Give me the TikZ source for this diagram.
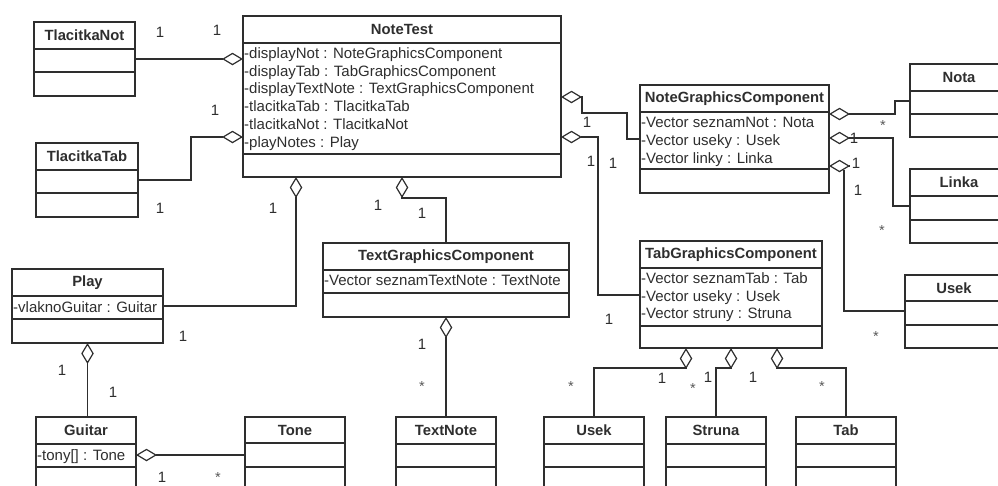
\documentclass[tikz,border=0pt]{standalone}
\usepackage{fontspec}
\setmainfont{Liberation Sans}
\usetikzlibrary{arrows.meta,fit,calc}
\definecolor{ink}{HTML}{2E2E2E}
\tikzset{
  ln/.style={draw=ink, line width=1.2pt},
  boxstyle/.style={draw=ink, line width=1.2pt, inner sep=0pt, outer sep=0pt},
  titlestyle/.style={font=\fontsize{14.8}{17}\selectfont\bfseries, text=ink, inner sep=0pt},
  attrstyle/.style={font=\fontsize{15}{17}\selectfont, text=ink, inner sep=0pt, anchor=base west},
  mult/.style={font=\fontsize{15}{17}\selectfont, text=ink, inner sep=0pt},
  star/.style={font=\fontsize{14.5}{17}\selectfont, text=ink!80, inner sep=0pt, yshift=-3.5pt},
  agg/.style={{Diamond[open,length=21pt,width=12.5pt]}-, draw=ink, line width=1.2pt},
  conn/.style={draw=ink, line width=1.2pt},
}
\newcommand{\umlbox}[8]{%
  \node[boxstyle, fit={(#2,#3) (#4,#7)}] (#1) {};
  \draw[ln] (#2,#5) -- (#4,#5);
  \draw[ln] (#2,#6) -- (#4,#6);
  \node[titlestyle] (#1-t) at ({(#2+#4)/2},{(#3+#5)/2}) {#8};
}
\newcommand{\attr}[4]{\node[attrstyle] (#1) at (#2,#3) {#4};}
\begin{document}
\begin{tikzpicture}[x=1pt,y=-1pt]
\useasboundingbox (0,0) rectangle (998,485);
\clip (0,0) rectangle (998,485);

% classes
\umlbox{tn}{34}{22}{135}{49}{72}{96}{TlacitkaNot}
\umlbox{tt}{36}{143}{138}{170}{193}{217}{TlacitkaTab}
\umlbox{nt}{243}{16}{561}{43}{154}{177}{NoteTest}
\umlbox{ngc}{640}{85}{829}{112}{169}{193}{NoteGraphicsComponent}
\umlbox{nota}{910}{64}{1008}{91}{114}{137}{Nota}
\umlbox{linka}{910}{169}{1008}{196}{220}{243}{Linka}
\umlbox{usekr}{905}{275}{1003}{301}{325}{348}{Usek}
\umlbox{tgc}{640}{241}{822}{268}{326}{348}{TabGraphicsComponent}
\umlbox{txgc}{323}{243}{569}{270}{293}{317}{TextGraphicsComponent}
\umlbox{play}{12}{269}{163}{296}{319}{343}{Play}
\umlbox{guitar}{36}{417}{136}{444}{467}{510}{Guitar}
\umlbox{tone}{245}{417}{345}{443}{467}{510}{Tone}
\umlbox{textnote}{396}{417}{496}{444}{467}{510}{TextNote}
\umlbox{usekb}{544}{417}{644}{444}{467}{510}{Usek}
\umlbox{struna}{666}{417}{766}{444}{467}{510}{Struna}
\umlbox{tab}{796}{417}{896}{444}{467}{510}{Tab}

% attributes
\attr{nt-a1}{244}{58}{-displayNot : NoteGraphicsComponent}
\attr{nt-a2}{244}{76}{-displayTab : TabGraphicsComponent}
\attr{nt-a3}{244}{93.5}{-displayTextNote : TextGraphicsComponent}
\attr{nt-a4}{244}{111}{-tlacitkaTab : TlacitkaTab}
\attr{nt-a5}{244}{129}{-tlacitkaNot : TlacitkaNot}
\attr{nt-a6}{244}{147}{-playNotes : Play}
\attr{ngc-a1}{641}{127}{-Vector seznamNot : Nota}
\attr{ngc-a2}{641}{145}{-Vector useky : Usek}
\attr{ngc-a3}{641}{163}{-Vector linky : Linka}
\attr{tgc-a1}{641}{283}{-Vector seznamTab : Tab}
\attr{tgc-a2}{641}{301}{-Vector useky : Usek}
\attr{tgc-a3}{641}{318.5}{-Vector struny : Struna}
\attr{txgc-a1}{324}{285.5}{-Vector seznamTextNote : TextNote}
\attr{play-a1}{13}{312}{-vlaknoGuitar : Guitar}
\attr{guitar-a1}{37}{460}{-tony[] : Tone}

% connectors
\draw[agg] (nt.west |- 0,59) -- (tn.east |- 0,59);
\draw[agg] (nt.west |- 0,137) -- ++(-52,0) |- (tt.east |- 0,180);
\draw[agg] (nt.south -| 296,0) |- (play.east |- 0,306);
\draw[agg] (nt.south -| 402,0) -- ++(0,21) -| (txgc.north);
\draw[agg] (nt.east |- 0,97) -- ++(21,0) -- ++(0,16) -- ++(45,0) |- (ngc.west |- 0,139);
\draw[agg] (nt.east |- 0,137) -- ++(37,0) |- (tgc.west |- 0,295);
\draw[agg] (ngc.east |- 0,114) -- ++(66,0) |- (nota.west |- 0,101);
\draw[agg] (ngc.east |- 0,138) -- ++(64,0) |- (linka.west |- 0,206);
\draw[agg] (ngc.east |- 0,166) -- ++(21,0);
\draw[conn] ($(ngc.east |- 0,166)+(15,3.5)$) |- (usekr.west |- 0,311);
\draw[agg] (tgc.south -| 686,0) -- ++(0,20) -| (usekb.north);
\draw[agg] (tgc.south -| 731,0) -- ++(0,20) -| (struna.north);
\draw[agg] (tgc.south -| 777,0) -- ++(0,20) -| (tab.north);
\draw[agg] (txgc.south) -- (textnote.north);
\draw[agg] (play.south) -- (play.south |- guitar.north);
\draw[agg] (guitar.east |- 0,455) -- (tone.west |- 0,455);

% multiplicities
\node[mult] (m1) at (160,32) {1};
\node[mult] (m2) at (217,30) {1};
\node[mult] (m3) at (215,110) {1};
\node[mult] (m4) at (160,208) {1};
\node[mult] (m5) at (273,208) {1};
\node[mult] (m6) at (378,205) {1};
\node[mult] (m7) at (422,213) {1};
\node[mult] (m8) at (587,122) {1};
\node[mult] (m9) at (591,161) {1};
\node[mult] (m10) at (613,163) {1};
\node[star] (m11) at (883,122) {*};
\node[mult] (m12) at (854,138) {1};
\node[star] (m13) at (882,227) {*};
\node[mult] (m14) at (856,163) {1};
\node[mult] (m15) at (858,190) {1};
\node[star] (m16) at (876,333) {*};
\node[mult] (m17) at (609,319) {1};
\node[star] (m18) at (571,383) {*};
\node[mult] (m19) at (662,378) {1};
\node[star] (m20) at (693,385) {*};
\node[mult] (m21) at (708,377) {1};
\node[mult] (m22) at (753,377) {1};
\node[star] (m23) at (822,383) {*};
\node[mult] (m24) at (422,344) {1};
\node[star] (m25) at (422,383) {*};
\node[mult] (m26) at (183,336) {1};
\node[mult] (m27) at (62,370) {1};
\node[mult] (m28) at (113,392) {1};
\node[mult] (m29) at (162,477) {1};
\node[star] (m30) at (218,474) {*};
\end{tikzpicture}
\end{document}
